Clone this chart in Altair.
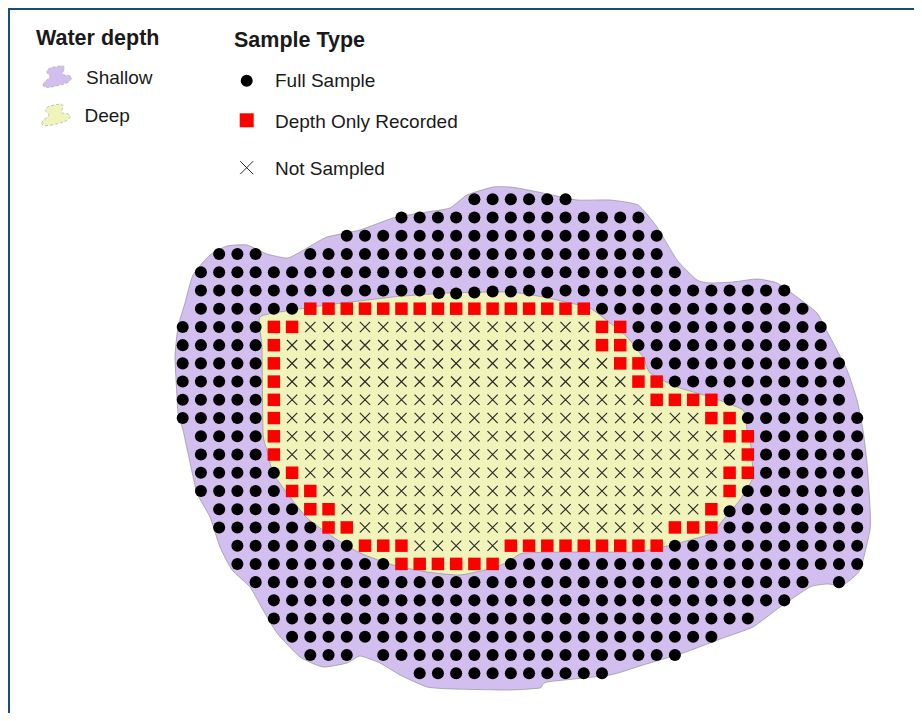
import altair as alt
import pandas as pd

alt.data_transformers.disable_max_rows()

# Outline of the shallow water area, in map units
shallow_x = [493, 467, 450, 427, 393, 360, 327, 307, 288, 267, 247, 227, 210, 193, 185, 178, 175, 177, 178,
             183, 188, 197, 210, 220, 232, 250, 263, 277, 300, 323, 347, 360, 380, 400, 427, 453, 510, 540, 547,
             610, 643, 683, 723, 753, 780, 810, 827, 843, 860, 870, 870, 867, 863, 857, 847, 830, 817, 797, 777,
             757, 733, 710, 697, 677, 657, 638, 610, 577, 543, 523, 510]
shallow_y = [187, 195, 208, 212, 218, 230, 237, 248, 258, 254, 245, 246, 255, 275, 303, 327, 357, 397, 413,
             430, 453, 493, 517, 547, 570, 587, 610, 633, 657, 667, 663, 656, 663, 675, 687, 689, 690, 688, 682,
             675, 665, 653, 638, 627, 607, 587, 584, 585, 570, 530, 507, 463, 430, 400, 370, 337, 313, 297, 283,
             279, 282, 283, 280, 260, 227, 205, 200, 200, 193, 189, 187]

# Outline of the deep water area, in map units
deep_x = [260, 293, 327, 393, 447, 510, 543, 570, 590, 610, 627, 643, 650, 677, 710, 743, 747, 750, 753, 752,
          740, 723, 713, 690, 663, 637, 577, 523, 510, 493, 460, 427, 393, 360, 333, 307, 287, 273, 267, 263, 262]
deep_y = [317, 310, 305, 297, 293, 292, 297, 303, 308, 323, 337, 357, 373, 387, 397, 410, 430, 437, 473, 480,
          500, 520, 533, 540, 547, 552, 552, 553, 561, 568, 575, 572, 565, 553, 537, 518, 493, 473, 450, 433, 347]

# Sampling grid: inclusive column ranges per row
full_sample = {
    0: [(16, 21)], 1: [(12, 25)], 2: [(9, 26)], 3: [(2, 4), (7, 26)], 4: [(1, 27)], 5: [(1, 33)],
    6: [(1, 6), (23, 34)], 7: [(0, 4), (25, 35)], 8: [(0, 4), (25, 35)], 9: [(0, 4), (26, 36)],
    10: [(0, 4), (27, 36)], 11: [(0, 4), (30, 36)], 12: [(0, 4), (31, 37)], 13: [(1, 4), (32, 37)],
    14: [(1, 4), (32, 37)], 15: [(1, 5), (32, 37)], 16: [(1, 5), (31, 37)], 17: [(2, 6), (30, 37)],
    18: [(2, 7), (30, 37)], 19: [(3, 9), (27, 37)], 20: [(3, 11), (18, 37)], 21: [(4, 34), (36, 36)],
    22: [(5, 33)], 23: [(5, 31)], 24: [(6, 29)], 25: [(7, 9), (11, 27)], 26: [(13, 23)],
}
depth_only = {
    6: [(7, 22)], 7: [(5, 6), (23, 24)], 8: [(5, 5), (23, 24)], 9: [(5, 5), (24, 25)], 10: [(5, 5), (25, 26)],
    11: [(5, 5), (26, 29)], 12: [(5, 5), (29, 30)], 13: [(5, 5), (30, 31)], 14: [(5, 5), (31, 31)],
    15: [(6, 6), (30, 31)], 16: [(6, 7), (30, 30)], 17: [(7, 8), (29, 29)], 18: [(8, 9), (27, 29)],
    19: [(10, 12), (18, 26)], 20: [(12, 17)],
}
not_sampled = {
    7: [(7, 22)], 8: [(6, 22)], 9: [(6, 23)], 10: [(6, 24)], 11: [(6, 25)], 12: [(6, 28)], 13: [(6, 29)],
    14: [(6, 30)], 15: [(7, 29)], 16: [(8, 29)], 17: [(9, 28)], 18: [(10, 26)], 19: [(13, 17)],
}
# Stations lying slightly off the grid: (row, col): (dx, dy)
off_grid = {(5, 14): (1, 2.5), (5, 15): (0, 3), (5, 16): (0, 2), (5, 17): (0, 1), (5, 18): (0, 1),
            (5, 20): (0, 2), (17, 30): (0, 2)}

GRID_X0, GRID_Y0, GRID_STEP = 182.7, 199.3, 18.23

FONT = "Liberation Sans"
W, H = 906, 705
x_scale = alt.Scale(domain=[8, 914], nice=False, zero=False)
y_scale = alt.Scale(domain=[713, 8], nice=False, zero=False)


def stations(spec):
    recs = []
    for row, ranges in spec.items():
        for a, b in ranges:
            for col in range(a, b + 1):
                dx, dy = off_grid.get((row, col), (0, 0))
                recs.append({"x": GRID_X0 + GRID_STEP * col + dx, "y": GRID_Y0 + GRID_STEP * row + dy})
    return pd.DataFrame(recs)


def enc(chart):
    return chart.encode(
        x=alt.X("x:Q", scale=x_scale, axis=None),
        y=alt.Y("y:Q", scale=y_scale, axis=None),
    )


def outline(xs, ys, fill):
    df = pd.DataFrame({"x": xs, "y": ys, "i": range(len(xs))})
    return enc(alt.Chart(df).mark_line(
        interpolate="cardinal-closed", tension=0.5, fill=fill, stroke="#8f8f9c", strokeWidth=0.7
    )).encode(order="i:Q")


CROSS = "M-1,-1L1,1M-1,1L1,-1"
BLOB = ("M-1,0.6 C-0.95,0.3 -0.6,0.2 -0.5,0 C-0.45,-0.15 -0.85,-0.2 -0.7,-0.45 "
        "C-0.55,-0.7 0,-0.7 0.3,-0.77 C0.5,-0.8 0.55,-0.55 0.4,-0.35 C0.3,-0.2 0.4,-0.1 0.7,-0.1 "
        "C0.95,-0.1 1.05,0.1 0.95,0.2 C0.75,0.5 0.3,0.55 -0.2,0.68 C-0.5,0.76 -0.95,0.8 -1,0.6 Z")

CROSS_COLOR = "#2a2a2a"
LILAC = "#d3bef0"
CREAM = "#f0f4bb"

layers = [
    outline(shallow_x, shallow_y, LILAC),
    outline(deep_x, deep_y, CREAM),
    enc(alt.Chart(stations(depth_only)).mark_square(color="#ff0000", size=156, opacity=1)),
    enc(alt.Chart(stations(not_sampled)).mark_point(
        shape=CROSS, size=105, filled=False, stroke=CROSS_COLOR, strokeWidth=1.15, opacity=1)),
    enc(alt.Chart(stations(full_sample)).mark_circle(color="#000000", size=145, opacity=1)),
]


def label(text, px, py, size, weight="normal"):
    return alt.Chart(pd.DataFrame({"t": [text]})).mark_text(
        align="left", baseline="alphabetic", font=FONT, fontSize=size, fontWeight=weight, color="#1a1a1a"
    ).encode(x=alt.value(px - 8), y=alt.value(py - 8), text="t:N")


def glyph(mark, px, py):
    return mark.encode(x=alt.value(px - 8), y=alt.value(py - 8))


one = alt.Chart(pd.DataFrame({"k": [0]}))
layers += [
    label("Water depth", 36, 44.5, 21.5, "bold"),
    label("Sample Type", 234, 47, 21.5, "bold"),
    label("Shallow", 86, 83.5, 19),
    label("Deep", 84.5, 122, 19),
    label("Full Sample", 275, 87, 19),
    label("Depth Only Recorded", 275, 127.5, 19),
    label("Not Sampled", 275, 174.7, 19),
    glyph(one.mark_point(shape=BLOB, size=821, filled=True, fill=LILAC, stroke="#a9a9b2", strokeWidth=0.7,
                         strokeDash=[3, 2], opacity=1), 57.3, 76.7),
    glyph(one.mark_point(shape=BLOB, size=821, filled=True, fill=CREAM, stroke="#a9a9b2", strokeWidth=0.7,
                         strokeDash=[3, 2], opacity=1), 56, 115),
    glyph(one.mark_circle(color="#000000", size=143, opacity=1), 246.7, 80.7),
    glyph(one.mark_square(color="#ff0000", size=196, opacity=1), 246.7, 120.3),
    glyph(one.mark_point(shape=CROSS, size=169, filled=False, stroke=CROSS_COLOR, strokeWidth=1, opacity=1), 246.7, 167.7),
    # Frame: top and left edges
    one.mark_rule(color="#1a4b7c", size=2).encode(x=alt.value(0), x2=alt.value(W), y=alt.value(1)),
    one.mark_rule(color="#1a4b7c", size=2).encode(x=alt.value(1), y=alt.value(0), y2=alt.value(H)),
]

chart = alt.layer(*layers).properties(
    width=W, height=H, padding=0, autosize=alt.AutoSizeParams(type="none"), background="#ffffff"
).configure_view(stroke=None)

chart.save("out.html", embed_options={"renderer": "svg", "actions": False})
